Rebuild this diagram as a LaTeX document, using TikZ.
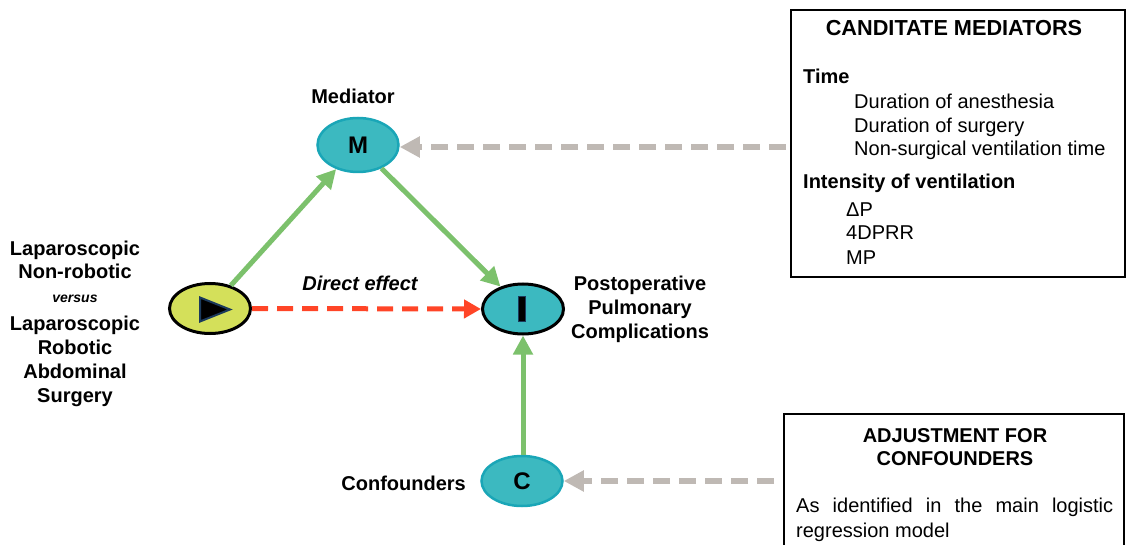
\documentclass[tikz,border=0pt]{standalone}
\usepackage{fontspec}
\setmainfont{Liberation Sans}
\usetikzlibrary{arrows.meta,shapes.geometric}
\definecolor{tealfill}{RGB}{60,185,192}
\definecolor{tealedge}{RGB}{26,166,183}
\definecolor{yelfill}{RGB}{212,224,90}
\definecolor{arrgreen}{RGB}{124,193,108}
\definecolor{arrred}{RGB}{255,69,39}
\definecolor{arrgray}{RGB}{191,185,180}
\definecolor{navy}{RGB}{27,58,92}
\tikzset{
  varnode/.style={ellipse, minimum width=81pt, minimum height=50pt, inner sep=0pt, fill=tealfill, font=\fontsize{24}{24}\selectfont\bfseries},
  greenarrow/.style={draw=arrgreen, line width=5pt, -{Triangle[length=19pt,width=19pt]}, arrgreen},
  grayarrow/.style={draw=arrgray, line width=6pt, dash pattern=on 17pt off 9pt, -{Triangle[length=20pt,width=20pt]}, arrgray},
  redarrow/.style={draw=arrred, line width=5pt, dash pattern=on 16pt off 9pt, -{Triangle[length=17pt,width=18pt]}, arrred},
  lbl/.style={anchor=base, inner sep=0pt, font=\fontsize{20}{24}\selectfont\bfseries},
  boxtxt/.style={anchor=base west, inner sep=0pt, font=\fontsize{20}{24}\selectfont},
  boxbold/.style={anchor=base west, inner sep=0pt, font=\fontsize{20}{24}\selectfont\bfseries},
  framebox/.style={draw=black, line width=2.5pt}
}
\begin{document}
\begin{tikzpicture}[x=1pt,y=-1pt]
\useasboundingbox (0,0) rectangle (1126,545);
% variable nodes
\node[varnode, fill=yelfill, draw=black, line width=3pt] (E) at (210,308.5) {};
\node[varnode, draw=black, line width=3pt] (I) at (523,309) {};
\node[varnode, draw=tealedge, line width=2.5pt, minimum height=54pt] (M) at (358,145) {M};
\node[varnode, draw=tealedge, line width=2.5pt] (C) at (522,481) {C};
% glyphs inside E and I
\filldraw[fill=black, draw=navy, line width=2pt, line join=miter] (200,297.5) -- (230,309.5) -- (200,321.5) -- cycle;
\filldraw[fill=black, draw=navy, line width=1.5pt] (518.5,296.5) rectangle (525.5,321.5);
% arrows
\draw[greenarrow] (E) -- (M);
\draw[greenarrow] (M) -- (I);
\draw[greenarrow] (C.north -| I.south) -- (I.south);
\draw[redarrow] (E.east) -- (I.west);
% boxes
\draw[framebox] (791,10) rectangle (1125,277);
\draw[framebox] (784,414) rectangle (1124,560);
\coordinate (b1) at (786,147);
\coordinate (b2) at (774,481);
\draw[grayarrow] (b1) -- (M.east |- b1);
\draw[grayarrow] (b2) -- (C.east);
% labels
\node[lbl] (medlbl) at (353,104) {Mediator};
\node[lbl, font=\fontsize{20}{24}\selectfont\bfseries\itshape] (delbl) at (360,290) {Direct effect};
\node[lbl] (l1) at (75,255) {Laparoscopic};
\node[lbl] (l2) at (75,278) {Non-robotic};
\node[lbl, font=\fontsize{14}{16}\selectfont\bfseries\itshape] (l3) at (75,302) {versus};
\node[lbl] (l4) at (75,330) {Laparoscopic};
\node[lbl] (l5) at (75,354) {Robotic};
\node[lbl] (l6) at (75,378) {Abdominal};
\node[lbl] (l7) at (75,402) {Surgery};
\node[lbl] (p1) at (640,290) {Postoperative};
\node[lbl] (p2) at (640,314) {Pulmonary};
\node[lbl] (p3) at (640,338) {Complications};
\node[lbl, anchor=base east] (conf) at (466,490) {Confounders};
% box 1 text
\node[boxbold, anchor=base, font=\fontsize{21.7}{24}\selectfont\bfseries] (t0) at (954,36) {CANDITATE MEDIATORS};
\node[boxbold] (t1) at (803,84) {Time};
\node[boxtxt] (t2) at (854,109) {Duration of anesthesia};
\node[boxtxt] (t3) at (854,133) {Duration of surgery};
\node[boxtxt] (t4) at (854,156) {Non-surgical ventilation time};
\node[boxbold] (t5) at (803,189) {Intensity of ventilation};
\node[boxtxt] (t6) at (846,217) {ΔP};
\node[boxtxt] (t7) at (846,240) {4DPRR};
\node[boxtxt] (t8) at (846,264) {MP};
% box 2 text
\node[boxbold, anchor=base] (a1) at (955,442) {ADJUSTMENT FOR};
\node[boxbold, anchor=base] (a2) at (955,465) {CONFOUNDERS};
\node[boxtxt] (a3) at (796,512) {\makebox[317pt][s]{As\hfill identified\hfill in\hfill the\hfill main\hfill logistic}};
\node[boxtxt] (a4) at (796,537) {regression model};
\end{tikzpicture}
\end{document}
